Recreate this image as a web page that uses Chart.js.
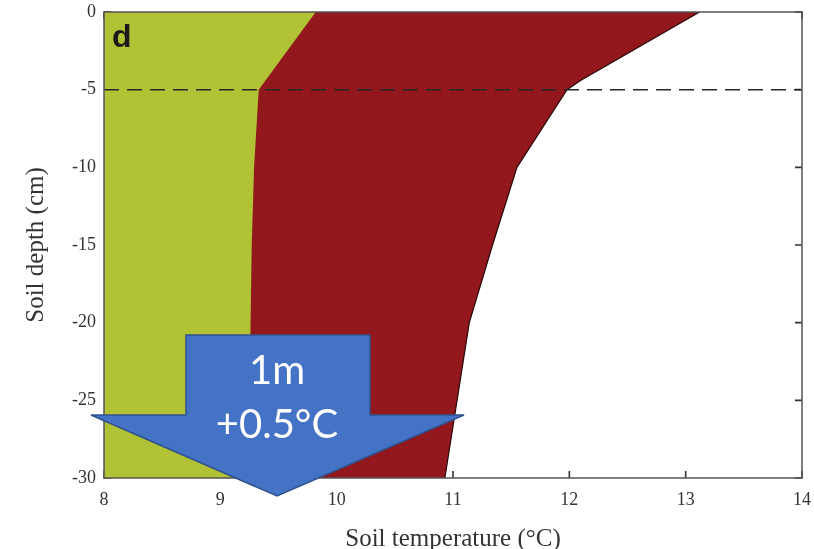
<!DOCTYPE html>
<html>
<head>
<meta charset="utf-8">
<script src="https://cdn.jsdelivr.net/npm/chart.js@4.4.1/dist/chart.umd.min.js"></script>
<style>
  html, body { margin: 0; padding: 0; background: #fff; }
  #wrap { position: relative; width: 814px; height: 549px; }
  #c { position: absolute; left: 0; top: 0; }
  #arrow { position: absolute; left: 0; top: 0; pointer-events: none; }
</style>
</head>
<body>
<div id="wrap">
  <canvas id="c" width="814" height="549"></canvas>
  <svg id="arrow" width="814" height="549" xmlns="http://www.w3.org/2000/svg">
    <polygon points="186,335 370,335 370,415 464,415 277,496 91,415 186,415"
             fill="#4472C4" stroke="#2F528F" stroke-width="1.5"/>
    <text x="277" y="384" text-anchor="middle" fill="#ffffff"
          font-family="Lato, 'Open Sans', sans-serif" font-size="40">1m</text>
    <text x="277" y="438" text-anchor="middle" fill="#ffffff"
          font-family="Lato, 'Open Sans', sans-serif" font-size="40">+0.5°C</text>
  </svg>
</div>
<script>
// ---- data ----
// depth (cm) and temperature (°C) of each band boundary, ordered deep -> surface
const lowerDepths = [-30, -25, -20, -15, -10, -5, 0];
const lowerTemps  = [9.24, 9.25, 9.26, 9.27, 9.29, 9.33, 9.82];          // green / red boundary
const upperDepths = [-30, -25, -20, -15, -10, -5, -4.4, 0];
const upperTemps  = [10.93, 11.035, 11.14, 11.34, 11.55, 11.98, 12.10, 13.12]; // red / white boundary
const refDepth = -5;
const xTicks = [8, 9, 10, 11, 12, 13, 14];
const yTicks = [0, -5, -10, -15, -20, -25, -30];
const xMin = 8, xMax = 14, yMin = -30, yMax = 0;

const boundary = (temps, depths) => temps.map((t, i) => ({ x: t, y: depths[i] }));
// each band = area left of its boundary: start at the axis corner, then follow the boundary
const band = (temps, depths) => [{ x: xMin, y: yMin }].concat(boundary(temps, depths));

const serif = "'Liberation Serif', 'Times New Roman', serif";

const boxAndTicks = {
  id: 'boxAndTicks',
  beforeDatasetsDraw(chart) {
    const { ctx, chartArea: a, scales } = chart;
    ctx.save();
    ctx.strokeStyle = '#333';
    ctx.lineWidth = 1.6;
    const L = 7;
    xTicks.forEach(v => {
      const px = scales.x.getPixelForValue(v);
      ctx.beginPath();
      ctx.moveTo(px, a.bottom); ctx.lineTo(px, a.bottom - L);
      ctx.moveTo(px, a.top); ctx.lineTo(px, a.top + L);
      ctx.stroke();
    });
    yTicks.forEach(v => {
      const py = scales.y.getPixelForValue(v);
      ctx.beginPath();
      ctx.moveTo(a.left, py); ctx.lineTo(a.left + L, py);
      ctx.moveTo(a.right, py); ctx.lineTo(a.right - L, py);
      ctx.stroke();
    });
    ctx.restore();
  },
  afterDatasetsDraw(chart) {
    const { ctx, chartArea: a } = chart;
    ctx.save();
    ctx.strokeStyle = '#555';
    ctx.lineWidth = 1.5;
    ctx.strokeRect(a.left, a.top, a.right - a.left, a.bottom - a.top);
    ctx.fillStyle = '#1a1a1a';
    ctx.font = "bold 32px 'Liberation Sans', Arial, sans-serif";
    ctx.textBaseline = 'alphabetic';
    ctx.fillText('d', a.left + 8, a.top + 35);
    ctx.restore();
  }
};

const noPad = s => { s.paddingLeft = 0; s.paddingRight = 0; s.paddingTop = 0; s.paddingBottom = 0; };

new Chart(document.getElementById('c'), {
  type: 'line',
  data: {
    datasets: [
      {
        label: 'reference depth',
        data: [{ x: xMin, y: refDepth }, { x: xMax, y: refDepth }],
        borderColor: '#262626',
        borderWidth: 1.5,
        borderDash: [15, 8],
        pointRadius: 0,
        fill: false
      },
      {
        label: 'upper edge',
        data: boundary(upperTemps, upperDepths),
        borderColor: '#2a0808',
        borderWidth: 1.2,
        pointRadius: 0,
        fill: false
      },
      {
        label: 'lower band',
        data: band(lowerTemps, lowerDepths),
        borderColor: 'rgba(0,0,0,0)',
        borderWidth: 0,
        backgroundColor: '#b2c235',
        pointRadius: 0,
        fill: 'end'
      },
      {
        label: 'upper band',
        data: band(upperTemps, upperDepths),
        borderColor: 'rgba(0,0,0,0)',
        borderWidth: 0,
        backgroundColor: '#92181d',
        pointRadius: 0,
        fill: 'end'
      }
    ]
  },
  options: {
    responsive: false,
    animation: false,
    events: [],
    layout: { padding: { left: 0, top: 12, right: 12, bottom: 0 } },
    plugins: { legend: { display: false }, tooltip: { enabled: false } },
    elements: { line: { tension: 0 } },
    scales: {
      x: {
        type: 'linear',
        min: xMin, max: xMax,
        afterBuildTicks(s) { s.ticks = xTicks.map(v => ({ value: v })); },
        afterFit(s) { s.height = 71; noPad(s); },
        grid: { display: false, drawTicks: false },
        border: { display: false },
        ticks: { color: '#333', font: { family: serif, size: 18 }, padding: 11 },
        title: {
          display: true,
          text: 'Soil temperature (°C)',
          color: '#333',
          font: { family: serif, size: 25, lineHeight: 0.8 },
          padding: { top: 6, bottom: 0 }
        }
      },
      y: {
        type: 'linear',
        min: yMin, max: yMax,
        afterBuildTicks(s) { s.ticks = yTicks.map(v => ({ value: v })); },
        afterFit(s) { s.width = 104; noPad(s); },
        grid: { display: false, drawTicks: false },
        border: { display: false },
        ticks: { color: '#333', font: { family: serif, size: 18 }, padding: 8 },
        title: {
          display: true,
          text: 'Soil depth (cm)',
          color: '#333',
          font: { family: serif, size: 25 },
          padding: { top: 21, bottom: 0 }
        }
      }
    }
  },
  plugins: [boxAndTicks]
});
</script>
</body>
</html>
